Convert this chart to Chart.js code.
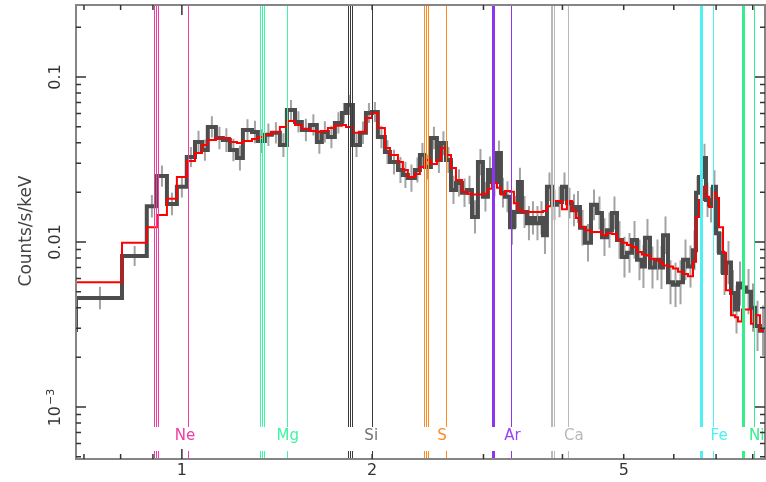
<!DOCTYPE html>
<html lang="en">
<head>
<meta charset="UTF-8">
<title>X-ray spectrum</title>
<script src="https://cdn.jsdelivr.net/npm/chart.js"></script>
<style>
  html, body { margin: 0; padding: 0; background: #fff; }
  #wrap { width: 766px; height: 482px; }
</style>
</head>
<body>
<div id="wrap"><canvas id="spec" width="766" height="482"></canvas></div>
<script>
// bin edges in keV (one more than the number of bins)
const binEdges = [
  0.665, 0.680, 0.804, 0.880, 0.913, 0.947, 0.982, 1.018, 1.049, 1.076,
  1.099, 1.132, 1.161, 1.191, 1.222, 1.249, 1.291, 1.319, 1.353, 1.388,
  1.429, 1.466, 1.510, 1.548, 1.594, 1.635, 1.665, 1.702, 1.746, 1.791,
  1.818, 1.865, 1.913, 1.955, 1.998, 2.042, 2.095, 2.134, 2.197, 2.237,
  2.278, 2.337, 2.380, 2.424, 2.477, 2.532, 2.569, 2.616, 2.665, 2.714,
  2.774, 2.825, 2.877, 2.940, 2.994, 3.049, 3.094, 3.151, 3.197, 3.244,
  3.304, 3.352, 3.401, 3.451, 3.515, 3.566, 3.619, 3.685, 3.726, 3.780,
  3.850, 3.921, 3.993, 4.066, 4.141, 4.202, 4.264, 4.342, 4.438, 4.536,
  4.619, 4.704, 4.790, 4.879, 4.968, 5.060, 5.153, 5.248, 5.343, 5.402,
  5.502, 5.603, 5.706, 5.769, 5.875, 5.983, 6.093, 6.205, 6.319, 6.435,
  6.506, 6.577, 6.674, 6.747, 6.821, 6.921, 6.997, 7.075, 7.179, 7.257,
  7.390, 7.499, 7.582, 7.692, 7.806, 7.949, 8.066, 8.214, 8.395
];

// observed counts/s/keV per bin
const dataRate = [
  0.00293, 0.00458, 0.00823, 0.0165, 0.0251, 0.0170, 0.0216, 0.0328, 0.0404, 0.0361,
  0.0498, 0.0427, 0.0415, 0.0361, 0.0323, 0.0478, 0.0465, 0.0409, 0.0447, 0.0459,
  0.0387, 0.0631, 0.0534, 0.0478, 0.0512, 0.0404, 0.0465, 0.0433, 0.0527, 0.0605,
  0.0677, 0.0387, 0.0459, 0.0605, 0.0613, 0.0433, 0.0351, 0.0305, 0.0273, 0.0255,
  0.0244, 0.0273, 0.0337, 0.0285, 0.0427, 0.0314, 0.0398, 0.0314, 0.0207, 0.0228,
  0.0199, 0.0207, 0.0142, 0.0305, 0.0188, 0.0273, 0.0231, 0.0346, 0.0199, 0.0188,
  0.0123, 0.0152, 0.0231, 0.0152, 0.0130, 0.0140, 0.0130, 0.0140, 0.0110, 0.0216,
  0.0168, 0.0175, 0.0216, 0.0172, 0.0156, 0.0163, 0.0122, 0.0099, 0.0168, 0.0150,
  0.0107, 0.0118, 0.0150, 0.0103, 0.0081, 0.0086, 0.0103, 0.0078, 0.0071, 0.0106,
  0.0070, 0.0078, 0.0070, 0.0110, 0.0057, 0.0055, 0.0057, 0.0078, 0.0071, 0.0089,
  0.0199, 0.0248, 0.0323, 0.0180, 0.0168, 0.0216, 0.0113, 0.0086, 0.0065, 0.0075,
  0.0049, 0.0039, 0.0056, 0.0053, 0.0050, 0.0040, 0.0031, 0.0029
];

// relative 1-sigma error per bin
const relErr = [
  0.30, 0.17, 0.15, 0.17, 0.16, 0.17, 0.16, 0.15, 0.17, 0.16,
  0.16, 0.17, 0.18, 0.17, 0.19, 0.16, 0.17, 0.18, 0.17, 0.16,
  0.18, 0.15, 0.16, 0.17, 0.16, 0.18, 0.16, 0.17, 0.16, 0.15,
  0.15, 0.18, 0.17, 0.15, 0.15, 0.17, 0.18, 0.19, 0.20, 0.20,
  0.21, 0.19, 0.18, 0.19, 0.17, 0.20, 0.18, 0.20, 0.22, 0.21,
  0.22, 0.22, 0.26, 0.20, 0.23, 0.21, 0.22, 0.19, 0.23, 0.24,
  0.28, 0.25, 0.22, 0.25, 0.27, 0.26, 0.27, 0.26, 0.30, 0.22,
  0.24, 0.24, 0.22, 0.24, 0.25, 0.25, 0.28, 0.30, 0.24, 0.26,
  0.30, 0.28, 0.26, 0.30, 0.33, 0.32, 0.30, 0.33, 0.35, 0.30,
  0.34, 0.33, 0.35, 0.30, 0.36, 0.36, 0.36, 0.33, 0.34, 0.32,
  0.26, 0.25, 0.22, 0.27, 0.28, 0.26, 0.32, 0.34, 0.36, 0.35,
  0.38, 0.40, 0.36, 0.37, 0.37, 0.40, 0.42, 0.42
];

// folded model counts/s/keV per bin
const modelRate = [
  0.00254, 0.0057, 0.0099, 0.0123, 0.0146, 0.0183, 0.0248, 0.0310, 0.0346, 0.0387,
  0.0415, 0.0427, 0.0427, 0.0404, 0.0398, 0.0409, 0.0421, 0.0433, 0.0447, 0.0465,
  0.0498, 0.0541, 0.0512, 0.0485, 0.0471, 0.0465, 0.0471, 0.0491, 0.0507, 0.0512,
  0.0498, 0.0459, 0.0465, 0.0565, 0.0605, 0.0491, 0.0371, 0.0337, 0.0305, 0.0273,
  0.0248, 0.0258, 0.0285, 0.0314, 0.0297, 0.0314, 0.0371, 0.0337, 0.0281, 0.0238,
  0.0202, 0.0196, 0.0194, 0.0194, 0.0196, 0.0210, 0.0228, 0.0213, 0.0194, 0.0204,
  0.0202, 0.0172, 0.0156, 0.0152, 0.0152, 0.0152, 0.0152, 0.0152, 0.0154, 0.0165,
  0.0177, 0.0177, 0.0158, 0.0177, 0.0156, 0.0140, 0.0123, 0.0118, 0.0115, 0.0115,
  0.0110, 0.0113, 0.0112, 0.0103, 0.0099, 0.0096, 0.0093, 0.0087, 0.0084, 0.0083,
  0.0079, 0.0078, 0.0075, 0.0072, 0.0071, 0.0069, 0.0066, 0.0064, 0.0062, 0.0076,
  0.0142, 0.0180, 0.0216, 0.0188, 0.0163, 0.0199, 0.0185, 0.0123, 0.0086, 0.0051,
  0.0036, 0.0035, 0.0033, 0.0039, 0.0039, 0.0032, 0.0036, 0.0029
];

// emission line markers: triplet + Ly-alpha energies (keV)
const elements = ['Ne', 'Mg', 'Si', 'S', 'Ar', 'Ca', 'Fe', 'Ni'];
const lineEnergies = [
  [0.903, 0.910, 0.916, 1.021],
  [1.328, 1.338, 1.348, 1.466],
  [1.831, 1.845, 1.858, 1.999],
  [2.415, 2.433, 2.451, 2.613],
  [3.094, 3.105, 3.121, 3.313],
  [3.836, 3.854, 3.873, 4.085],
  [6.601, 6.633, 6.657, 6.929],
  [7.684, 7.721, 7.757, 8.045]
];
const labelEnergies = [1.011, 1.471, 1.993, 2.579, 3.335, 4.171, 7.077, 7.891];
const lineColors = ['#ee3fa0', '#3ff5a3', '#3a3a3a', '#ff8a1e', '#8f35f0', '#b8b8b8', '#4cf0f5', '#33ee8a'];
const labelColors = ['#ee3fa0', '#3ff5a3', '#707070', '#ff8a1e', '#9a45f5', '#b8b8b8', '#4cf0f5', '#33ee8a'];

const xTickLabels = [1, 2, 5];
const xMinorTicks = [0.7, 0.8, 0.9, 2, 3, 4, 5, 6, 7, 8];
const yTickLabels = [0.1, 0.01, 0.001];

// step histogram points (left edge, value) + closing right edge
function stepPoints(vals) {
  const pts = vals.map((v, i) => ({ x: binEdges[i], y: v }));
  pts.push({ x: binEdges[vals.length], y: vals[vals.length - 1] });
  return pts;
}

const errPoints = [];
dataRate.forEach((v, i) => {
  const c = (binEdges[i] + binEdges[i + 1]) / 2;
  errPoints.push({ x: c, y: v / (1 + relErr[i]) }, { x: c, y: v * (1 + relErr[i]) }, { x: c, y: null });
});

const FONT = '"DejaVu Sans", "Liberation Sans", sans-serif';

const decorations = {
  id: 'decorations',
  afterDatasetsDraw(chart) {
    const { ctx, chartArea: a, scales: { x } } = chart;
    ctx.save();
    ctx.beginPath();
    ctx.rect(a.left, a.top, a.right - a.left, a.bottom - a.top);
    ctx.clip();
    lineEnergies.forEach((set, k) => {
      ctx.strokeStyle = lineColors[k];
      ctx.lineWidth = 1;
      set.forEach(e => {
        const px = Math.round(x.getPixelForValue(e)) + 0.5;
        ctx.beginPath();
        ctx.moveTo(px, a.top);
        ctx.lineTo(px, 427);
        ctx.moveTo(px, 451);
        ctx.lineTo(px, a.bottom);
        ctx.stroke();
      });
    });
    ctx.restore();

    ctx.save();
    ctx.font = '15px ' + FONT;
    ctx.textBaseline = 'middle';
    elements.forEach((name, k) => {
      ctx.fillStyle = labelColors[k];
      ctx.textAlign = name === 'Ni' ? 'left' : 'center';
      const px = x.getPixelForValue(labelEnergies[k]);
      ctx.fillText(name, px, 436);
    });
    ctx.restore();
  },
  afterDraw(chart) {
    const { ctx, chartArea: a, scales: { x, y } } = chart;
    ctx.save();
    // frame
    ctx.strokeStyle = '#858585';
    ctx.lineWidth = 2;
    ctx.strokeRect(a.left, a.top, a.right - a.left, a.bottom - a.top);

    // ticks
    ctx.strokeStyle = '#333';
    ctx.lineWidth = 1.5;
    ctx.beginPath();
    xMinorTicks.forEach(t => {
      const px = x.getPixelForValue(t);
      ctx.moveTo(px, a.bottom); ctx.lineTo(px, a.bottom - 5);
      ctx.moveTo(px, a.top); ctx.lineTo(px, a.top + 5);
    });
    const p1 = x.getPixelForValue(1);
    ctx.moveTo(p1, a.bottom); ctx.lineTo(p1, a.bottom - 10);
    ctx.moveTo(p1, a.top); ctx.lineTo(p1, a.top + 10);
    for (let d = -4; d <= -1; d++) {
      for (let m = 1; m <= 9; m++) {
        const v = m * Math.pow(10, d);
        if (v < y.min || v > y.max) continue;
        const py = y.getPixelForValue(v);
        const len = m === 1 ? 10 : 5;
        ctx.moveTo(a.left, py); ctx.lineTo(a.left + len, py);
        ctx.moveTo(a.right, py); ctx.lineTo(a.right - len, py);
      }
    }
    ctx.stroke();

    // x tick labels
    ctx.fillStyle = '#333';
    ctx.font = '16px ' + FONT;
    ctx.textAlign = 'center';
    ctx.textBaseline = 'middle';
    xTickLabels.forEach(t => ctx.fillText(String(t), x.getPixelForValue(t), 471));

    // y tick labels, rotated
    yTickLabels.forEach(t => {
      const py = y.getPixelForValue(t);
      ctx.save();
      ctx.translate(56, py);
      ctx.rotate(-Math.PI / 2);
      ctx.textBaseline = 'middle';
      if (t < 0.005) {
        ctx.font = '16px ' + FONT;
        ctx.textAlign = 'right';
        ctx.fillText('10', 1, 0);
        ctx.font = '11px ' + FONT;
        ctx.textAlign = 'left';
        ctx.fillText('\u22123', 2, -5);
      } else {
        ctx.font = '16px ' + FONT;
        ctx.textAlign = 'center';
        ctx.fillText(String(t), 0, 0);
      }
      ctx.restore();
    });

    // y axis title
    ctx.save();
    ctx.translate(27, 231);
    ctx.rotate(-Math.PI / 2);
    ctx.font = '17px ' + FONT;
    ctx.fillStyle = '#444';
    ctx.textAlign = 'center';
    ctx.textBaseline = 'middle';
    ctx.fillText('Counts/s/keV', 0, 0);
    ctx.restore();
    ctx.restore();
  }
};

new Chart(document.getElementById('spec'), {
  type: 'line',
  data: {
    datasets: [
      {
        label: 'model',
        data: stepPoints(modelRate),
        stepped: 'before',
        borderColor: '#ff0000',
        borderWidth: 2,
        pointRadius: 0,
        order: 0
      },
      {
        label: 'data',
        data: stepPoints(dataRate),
        stepped: 'before',
        borderColor: '#4d4d4d',
        borderWidth: 4,
        pointRadius: 0,
        order: 1
      },
      {
        label: 'errors',
        data: errPoints,
        borderColor: '#a3a3a3',
        borderWidth: 2,
        pointRadius: 0,
        spanGaps: false,
        order: 2
      }
    ]
  },
  options: {
    responsive: false,
    animation: false,
    layout: { padding: { left: 76, right: 1, top: 5, bottom: 23 } },
    plugins: { legend: { display: false }, tooltip: { enabled: false } },
    scales: {
      x: { type: 'logarithmic', min: 0.680, max: 8.365, display: false },
      y: { type: 'logarithmic', min: 0.000484, max: 0.2732, display: false }
    }
  },
  plugins: [decorations]
});
</script>
</body>
</html>
